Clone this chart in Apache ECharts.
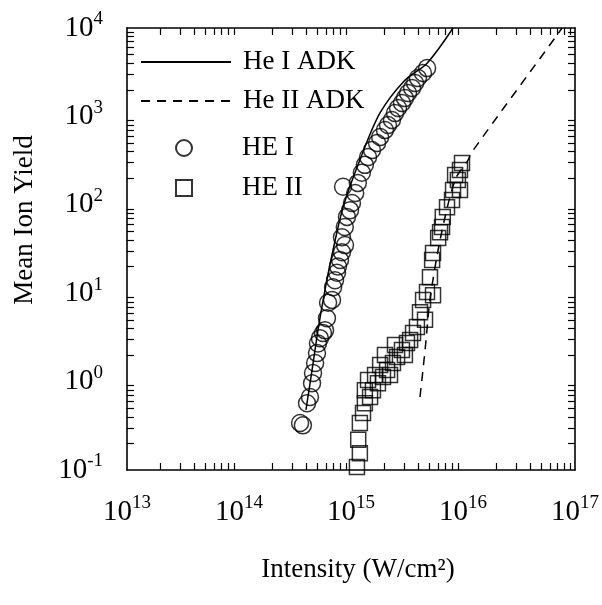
<!DOCTYPE html>
<html>
<head>
<meta charset="utf-8">
<script src="https://cdn.jsdelivr.net/npm/echarts@6/dist/echarts.min.js"></script>
<style>
  html, body { margin: 0; padding: 0; background: #fff; }
  #chart { width: 602px; height: 605px; }
</style>
</head>
<body>
<div id="chart"></div>
<script>
// HE I measured yield (circles)
const heIIntensity = [
  3.51e14, 3.72e14, 4.05e14, 4.3e14, 4.49e14, 4.58e14, 4.78e14, 4.97e14, 5.07e14, 5.28e14,
  5.62e14, 5.86e14, 6.1e14, 6.24e14, 6.77e14, 6.92e14, 7.2e14, 7.5e14, 7.65e14, 7.98e14,
  8.3e14, 8.84e14, 8.3e14, 8.8e14, 9.2e14, 9.8e14, 1.02e15, 1.09e15, 1.15e15, 8.5e14,
  1.25e15, 1.33e15, 1.42e15, 1.54e15, 1.71e15, 1.82e15, 2.01e15, 2.14e15, 2.32e15, 2.47e15,
  2.63e15, 2.85e15, 3.03e15, 3.23e15, 3.51e15, 3.73e15, 3.96e15, 4.39e15, 4.78e15
];
const heIYield = [
  0.34, 0.32, 0.57, 0.67, 0.96, 1.25, 1.62, 2.1, 2.7, 3.1,
  3.55, 3.8, 5.2, 7.8, 8.4, 11.7, 14, 17, 20, 23.8,
  29, 35, 43, 56, 73, 87, 105, 136, 177, 160,
  230, 283, 347, 417, 500, 585, 700, 800, 910, 1090,
  1245, 1420, 1610, 1840, 2100, 2390, 2720, 3100, 3520
];

// HE II measured yield (squares)
const heIIIntensity = [
  9.8e15, 9.4e15, 9.0e15, 8.15e15, 7.98e15, 7.2e15, 6.6e15, 6.5e15, 6.0e15, 5.4e15,
  5.3e15, 5.07e15, 4.77e15, 5.4e15, 4.4e15, 4.13e15, 3.88e15, 3.58e15, 3.16e15, 2.85e15,
  2.58e15, 2.37e15, 2.1e15, 1.93e15, 1.74e15, 1.57e15, 1.48e15, 1.33e15, 1.28e15, 1.2e15,
  1.16e15, 1.2e15, 1.13e15, 2.47e15, 2.01e15, 2.23e15, 1.82e15, 1.64e15, 1.33e15, 1.42e15,
  3.37e15, 3.03e15, 4.58e15, 6.24e15, 8.5e15, 9.4e15
];
const heIIYield = [
  297, 248, 191, 147, 113, 94, 73, 56, 42, 28.5,
  23.8, 15.2, 10.3, 9.5, 8.4, 6.1, 4.15, 3.55, 2.73, 2.28,
  1.9, 1.62, 1.35, 1.13, 0.96, 0.8, 0.67, 0.57, 0.44, 0.34,
  0.22, 0.155, 0.108, 2.6, 2.0, 1.19, 1.54, 1.19, 0.8, 1.04,
  2.95, 2.0, 5.0, 49, 217, 147
];

// ADK curves
const heIAdkIntensity = [3.96e14, 4.49e14, 5.07e14, 5.86e14, 6.92e14, 8.5e14, 1.2e15, 1.82e15, 3.03e15, 4.78e15, 8.15e15];
const heIAdkYield = [0.48, 1.35, 3.8, 10.9, 31, 94, 321, 1100, 2570, 4000, 10000];
const heIIAdkIntensity = [4.13e15, 4.39e15, 4.68e15, 5.07e15, 6.24e15, 8.5e15, 1.11e16, 1.2e16, 6.9e16, 7.65e16];
const heIIAdkYield = [0.67, 1.35, 2.96, 8.4, 40, 191, 321, 395, 8300, 10000];

const xLabels = [1e13, 1e14, 1e15, 1e16, 1e17];
const yLabels = [1e-1, 1e0, 1e1, 1e2, 1e3, 1e4];

const FONT = '"Liberation Serif", "DejaVu Serif", serif';

function pairs(xs, ys) { return xs.map((x, i) => [x, ys[i]]); }

function minorTicks(lo, hi) {
  const out = [];
  for (let d = lo; d < hi; d++) {
    for (let k = 2; k <= 9; k++) out.push(k * Math.pow(10, d));
  }
  return out;
}

function powLabel(v) {
  const e = Math.round(Math.log10(v));
  return '{b|10}{s|' + e + '}';
}

const labelRich = {
  b: { fontFamily: FONT, fontSize: 29, color: '#000', lineHeight: 32 },
  s: { fontFamily: FONT, fontSize: 19, color: '#000', lineHeight: 19, padding: [0, 0, 17, 0] }
};

const axisLine = { show: true, onZero: false, lineStyle: { color: '#000', width: 1.6 } };
const tick = (vals) => ({ show: true, inside: true, length: 7, customValues: vals, lineStyle: { color: '#000', width: 1.2 } });

const xMinor = minorTicks(13, 17);
const yMinor = minorTicks(-1, 4);

const chart = echarts.init(document.getElementById('chart'), null, { renderer: 'canvas' });

chart.setOption({
  animation: false,
  backgroundColor: '#fff',
  textStyle: { fontFamily: FONT, color: '#000' },
  grid: { left: 127, right: 27, top: 28, bottom: 135, containLabel: false },
  legend: [
    {
      data: ['He I ADK', 'He II ADK'],
      orient: 'vertical',
      left: 140, top: 47, padding: 0,
      itemWidth: 90, itemHeight: 14, itemGap: 9,
      itemStyle: { opacity: 0 },
      textStyle: { fontFamily: FONT, fontSize: 27, color: '#000', lineHeight: 30, padding: [0, 0, 0, 7] },
      selectedMode: false
    },
    {
      data: ['HE I', 'HE II'],
      orient: 'vertical',
      left: 175, top: 133, padding: 0,
      itemWidth: 16, itemHeight: 16, itemGap: 10,
      textStyle: { fontFamily: FONT, fontSize: 27, color: '#000', lineHeight: 30, padding: [0, 0, 0, 45] },
      selectedMode: false
    }
  ],
  xAxis: [
    {
      type: 'log', logBase: 10, min: 1e13, max: 1e17, position: 'bottom',
      axisLine: axisLine,
      axisTick: tick(xMinor),
      splitLine: { show: false },
      axisLabel: { customValues: xLabels, margin: 26, formatter: powLabel, rich: labelRich },
      name: 'Intensity (W/cm²)', nameLocation: 'middle', nameGap: 86,
      nameTextStyle: { fontFamily: FONT, fontSize: 27, color: '#000', padding: [0, 0, 0, 14] }
    },
    {
      type: 'log', logBase: 10, min: 1e13, max: 1e17, position: 'top',
      axisLine: axisLine,
      axisTick: tick(xMinor),
      splitLine: { show: false },
      axisLabel: { show: false }
    }
  ],
  yAxis: [
    {
      type: 'log', logBase: 10, min: 1e-1, max: 1e4, position: 'left',
      axisLine: axisLine,
      axisTick: tick(yMinor),
      splitLine: { show: false },
      axisLabel: { customValues: yLabels, margin: 24, formatter: powLabel, rich: labelRich },
      name: 'Mean Ion Yield', nameLocation: 'middle', nameGap: 89,
      nameTextStyle: { fontFamily: FONT, fontSize: 27, color: '#000', padding: [0, 0, 0, 58] }
    },
    {
      type: 'log', logBase: 10, min: 1e-1, max: 1e4, position: 'right',
      axisLine: axisLine,
      axisTick: tick(yMinor),
      splitLine: { show: false },
      axisLabel: { show: false }
    }
  ],
  series: [
    {
      name: 'He I ADK', type: 'line', data: pairs(heIAdkIntensity, heIAdkYield),
      symbol: 'none', smooth: 0.3, clip: true,
      lineStyle: { color: '#000', width: 1.5 }, itemStyle: { color: '#000' }
    },
    {
      name: 'He II ADK', type: 'line', data: pairs(heIIAdkIntensity, heIIAdkYield),
      symbol: 'none', smooth: 0.3, clip: true,
      lineStyle: { color: '#000', width: 1.5, type: [9, 7] }, itemStyle: { color: '#000' }
    },
    {
      name: 'HE I', type: 'scatter', data: pairs(heIIntensity, heIYield),
      symbol: 'circle', symbolSize: 17,
      itemStyle: { color: 'rgba(0,0,0,0)', borderColor: '#000', borderWidth: 1.5 }
    },
    {
      name: 'HE II', type: 'scatter', data: pairs(heIIIntensity, heIIYield),
      symbol: 'rect', symbolSize: 15,
      itemStyle: { color: 'rgba(0,0,0,0)', borderColor: '#000', borderWidth: 1.5 }
    }
  ]
});
</script>
</body>
</html>
